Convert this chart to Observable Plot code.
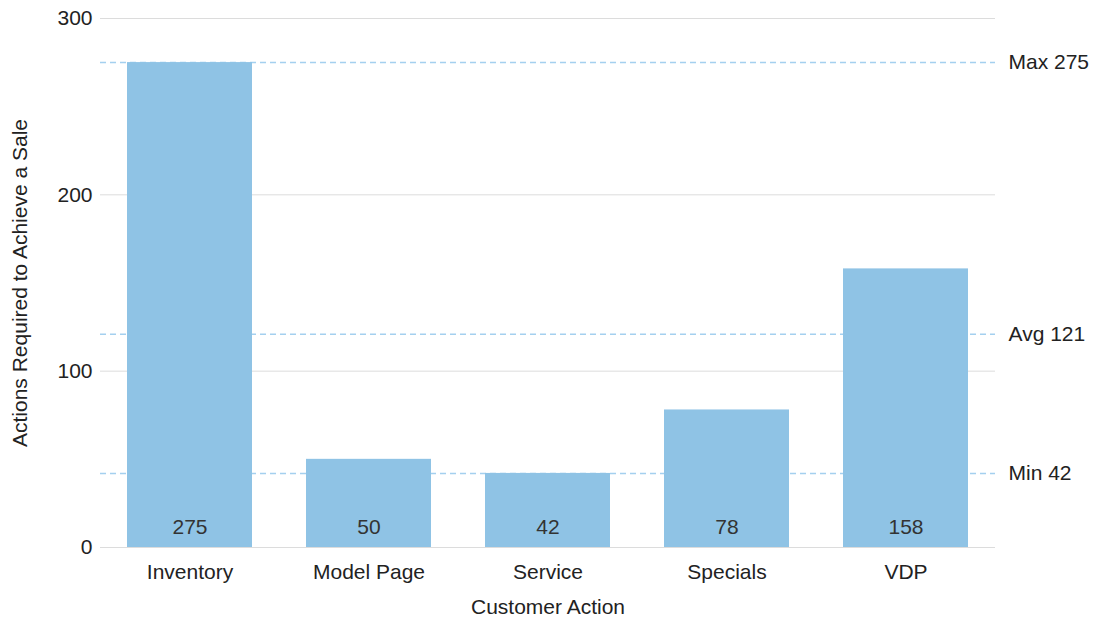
<!DOCTYPE html>
<html>
<head>
<meta charset="utf-8">
<script src="https://cdn.jsdelivr.net/npm/d3@7"></script>
<script src="https://cdn.jsdelivr.net/npm/@observablehq/plot@0.6"></script>
<style>
  html, body { margin: 0; padding: 0; background: #fff; }
  #chart svg { display: block; }
</style>
</head>
<body>
<div id="chart"></div>
<script>
// Customer actions and the number needed to achieve one sale
const actions = ["Inventory", "Model Page", "Service", "Specials", "VDP"];
const counts = [275, 50, 42, 78, 158];
const yTicks = [0, 100, 200, 300];

const data = actions.map((a, i) => ({action: a, count: counts[i]}));

// Reference lines: maximum, average and minimum
const refs = [
  {name: "Max", value: d3.max(counts)},
  {name: "Avg", value: Math.round(d3.mean(counts))},
  {name: "Min", value: d3.min(counts)}
];

const font = "'Liberation Sans', Arial, Helvetica, sans-serif";

const chart = Plot.plot({
  width: 1093,
  height: 618,
  marginTop: 18,
  marginBottom: 71,
  marginLeft: 100,
  marginRight: 98,
  style: {fontFamily: font, fontSize: "21px", color: "#222", background: "#fff"},
  x: {domain: actions, paddingInner: 0.3, paddingOuter: 0.15, label: "Customer Action"},
  y: {domain: [0, 300], label: "Actions Required to Achieve a Sale", labelArrow: "none"},
  marks: [
    Plot.ruleY(yTicks, {stroke: "#dcdcdc", strokeWidth: 1}),
    Plot.ruleY(refs, {y: "value", stroke: "#a4d0ef", strokeWidth: 1.5, strokeDasharray: "6,4"}),
    Plot.barY(data, {x: "action", y: "count", fill: "#8fc3e5"}),
    Plot.text(data, {x: "action", y: 0, text: d => String(d.count), dy: -20, fill: "#333", fontSize: 21}),
    Plot.text(refs, {y: "value", frameAnchor: "right", text: d => `${d.name} ${d.value}`, textAnchor: "start", dx: 13, fill: "#222", fontSize: 21}),
    Plot.axisY({ticks: yTicks, tickSize: 0, tickPadding: 8, label: "Actions Required to Achieve a Sale", labelArrow: "none", labelAnchor: "center", labelOffset: 88, fill: "#222"}),
    Plot.axisX({tickSize: 0, tickPadding: 17, label: "Customer Action", labelAnchor: "center", labelOffset: 66, fill: "#222"})
  ]
});

document.getElementById("chart").appendChild(chart);
</script>
</body>
</html>
